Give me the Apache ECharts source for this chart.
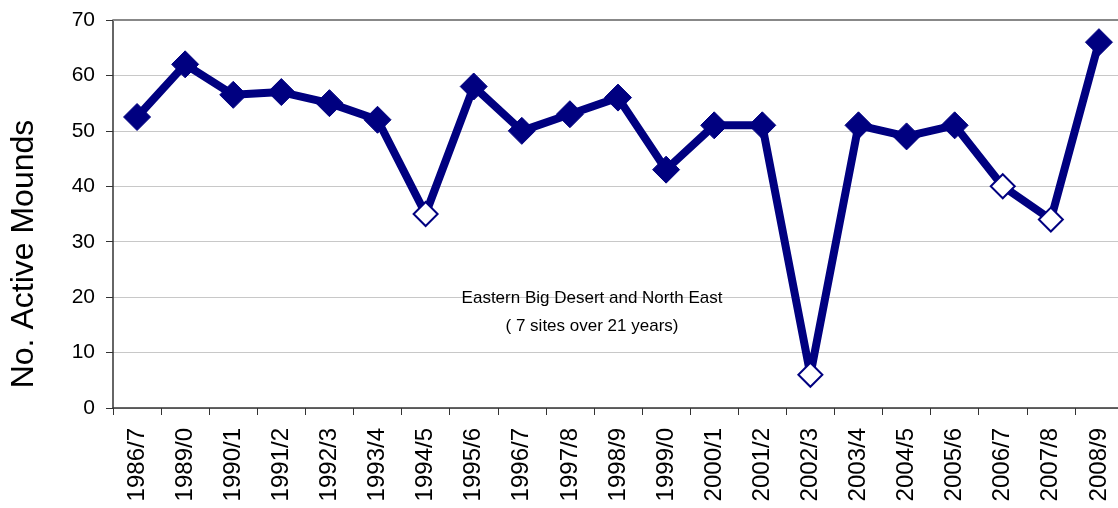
<!DOCTYPE html>
<html>
<head>
<meta charset="utf-8">
<script src="https://cdn.jsdelivr.net/npm/echarts@6/dist/echarts.min.js"></script>
<style>
html,body{margin:0;padding:0;background:#fff;}
#chart{width:1118px;height:508px;}
</style>
</head>
<body>
<div id="chart"></div>
<script>
// Seasons surveyed
const seasons = ['1986/7','1989/0','1990/1','1991/2','1992/3','1993/4','1994/5','1995/6','1996/7','1997/8','1998/9','1999/0','2000/1','2001/2','2002/3','2003/4','2004/5','2005/6','2006/7','2007/8','2008/9'];
// Number of active mounds per season
const activeMounds = [52.5, 62, 56.5, 57, 55, 52, 35, 58, 50, 53, 56, 43, 51, 51, 6, 51, 49, 51, 40, 34, 66];
// Seasons drawn with an open marker
const openSeasons = ['1994/5','2002/3','2006/7','2007/8'];
const yTicks = [0, 10, 20, 30, 40, 50, 60, 70];
const yTitle = 'No. Active Mounds';
const noteLines = ['Eastern Big Desert and North East', '( 7 sites over 21 years)'];

const navy = '#000080';
const font = '"Liberation Sans", Arial, sans-serif';

const chart = echarts.init(document.getElementById('chart'));
chart.setOption({
  animation: false,
  grid: { left: 113, top: 20, width: 1010, height: 388, show: false, containLabel: false, outerBoundsMode: 'none' },
  xAxis: {
    type: 'category',
    data: seasons,
    boundaryGap: true,
    axisLine: { lineStyle: { color: '#333', width: 1.5 } },
    axisTick: { show: true, length: 7, lineStyle: { color: '#333', width: 1 } },
    axisLabel: { rotate: 90, color: '#000', fontSize: 24, fontFamily: font, margin: 20, interval: 0 },
    splitLine: { show: false }
  },
  yAxis: {
    type: 'value',
    min: yTicks[0],
    max: yTicks[yTicks.length - 1],
    interval: 10,
    axisLine: { show: true, lineStyle: { color: '#333', width: 1.5 } },
    axisTick: { show: true, length: 7, lineStyle: { color: '#333' } },
    axisLabel: { color: '#000', fontSize: 21, fontFamily: font, margin: 18 },
    splitLine: { show: true, lineStyle: { color: '#c8c8c8', width: 1 } }
  },
  graphic: [
    { type: 'line', shape: { x1: 113, y1: 20, x2: 1118, y2: 20 }, style: { stroke: '#888', lineWidth: 2 }, z: 1 },
    {
      // y-axis title, set slightly below the plot's middle
      type: 'text', x: 24, y: 254, rotation: Math.PI / 2,
      style: { text: yTitle, fill: '#000', font: '32px ' + font, textAlign: 'center', textVerticalAlign: 'middle' },
      z: 10
    },
    {
      type: 'text', left: 592 - 140, top: 284,
      style: { text: noteLines.join('\n'), fill: '#000', font: '17px ' + font, textAlign: 'center', lineHeight: 28, width: 280, align: 'center' },
      z: 10
    }
  ],
  series: [{
    type: 'line',
    data: activeMounds.map((v, i) => {
      const open = openSeasons.includes(seasons[i]);
      return {
        value: v,
        symbolSize: open ? 24 : 27,
        itemStyle: open ? { color: '#fff', borderColor: navy, borderWidth: 2 } : { color: navy, borderColor: navy, borderWidth: 1 }
      };
    }),
    symbol: 'diamond',
    showAllSymbol: true,
    lineStyle: { color: navy, width: 8 },
    itemStyle: { color: navy },
    z: 5
  }]
});
</script>
</body>
</html>
